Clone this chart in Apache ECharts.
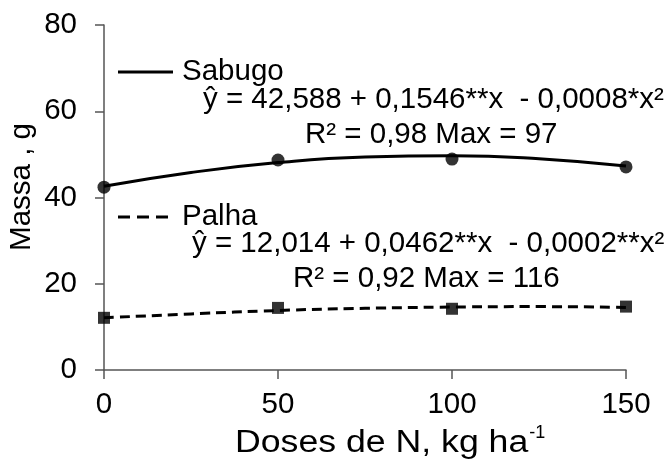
<!DOCTYPE html>
<html><head><meta charset="utf-8">
<script src="https://cdn.jsdelivr.net/npm/echarts@6/dist/echarts.min.js"></script>
<style>html,body{margin:0;padding:0;background:#fff}#c{width:670px;height:461px}</style>
</head><body><div id="c"></div>
<script>
// ---- data ----
const xObs = [0, 50, 100, 150];
const sabugoObs = [42.4, 48.7, 48.9, 47.1];
const palhaObs = [12.1, 14.4, 14.2, 14.7];
const xFit = [0, 25, 50, 75, 100, 125, 150];
const sabugoFit = [42.6, 45.8, 48.1, 49.4, 49.7, 49.0, 47.3];
const palhaFit = [12.1, 13.0, 13.8, 14.3, 14.6, 14.7, 14.5];
const seriesNames = ['Sabugo', 'Palha'];
const sabugoEq = 'ŷ = 42,588 + 0,1546**x  - 0,0008*x²';
const sabugoR2 = 'R² = 0,98 Max = 97';
const palhaEq = 'ŷ = 12,014 + 0,0462**x  - 0,0002**x²';
const palhaR2 = 'R² = 0,92 Max = 116';
const xTitle = 'Doses de N, kg ha';
const xTitleSup = '-1';
const yTitle = 'Massa , g';
const xRange = [0, 150, 50];
const yRange = [0, 80, 20];

// ---- chart ----
const FONT = '"Liberation Sans", Arial, sans-serif';
const FS = 29.5;
const TFS = 31;
const TSX = 1.15;
const axisColor = '#555';
const chart = echarts.init(document.getElementById('c'));

const cv = document.createElement('canvas').getContext('2d');
cv.font = TFS + 'px ' + FONT;
const xTitleW = cv.measureText(xTitle).width * TSX;

function txt(x, y, text, size, align, extra) {
  return Object.assign({
    type: 'text', x: x, y: y, z: 10,
    style: {
      text: text, fontSize: size, fontFamily: FONT, fill: '#000',
      align: align, textAlign: align, verticalAlign: 'middle', textVerticalAlign: 'middle'
    }
  }, extra || {});
}

const option = {
  animation: false,
  backgroundColor: '#fff',
  grid: { left: 104, right: 44, top: 25, bottom: 91 },
  xAxis: {
    type: 'value', min: xRange[0], max: xRange[1], interval: xRange[2],
    axisLine: { lineStyle: { color: axisColor, width: 1.5 } },
    axisTick: { show: true, length: 9, lineStyle: { color: axisColor, width: 1.5 } },
    axisLabel: { fontSize: FS, color: '#000', fontFamily: FONT, margin: 20 },
    splitLine: { show: false }
  },
  yAxis: {
    type: 'value', min: yRange[0], max: yRange[1], interval: yRange[2],
    axisLine: { show: true, lineStyle: { color: axisColor, width: 1.5 } },
    axisTick: { show: true, length: 9, lineStyle: { color: axisColor, width: 1.5 } },
    axisLabel: { fontSize: FS, color: '#000', fontFamily: FONT, margin: 27 },
    splitLine: { show: false }
  },
  series: [
    { name: seriesNames[0] + ' fit', type: 'line', smooth: true, showSymbol: false, z: 2,
      data: xFit.map((x, i) => [x, sabugoFit[i]]),
      lineStyle: { color: '#000', width: 3 } },
    { name: seriesNames[0], type: 'scatter', symbol: 'circle', symbolSize: 13, z: 3,
      data: xObs.map((x, i) => [x, sabugoObs[i]]), itemStyle: { color: '#000' } },
    { name: seriesNames[1] + ' fit', type: 'line', smooth: true, showSymbol: false, z: 2,
      data: xFit.map((x, i) => [x, palhaFit[i]]),
      lineStyle: { color: '#000', width: 3, type: [10, 6] } },
    { name: seriesNames[1], type: 'scatter', symbol: 'rect', symbolSize: 12, z: 3,
      data: xObs.map((x, i) => [x, palhaObs[i]]), itemStyle: { color: '#000' } }
  ],
  graphic: [
    { type: 'line', shape: { x1: 118, y1: 72, x2: 173, y2: 72 }, style: { stroke: '#000', lineWidth: 3 } },
    txt(182, 72, seriesNames[0], FS, 'left'),
    txt(203, 100, sabugoEq, FS, 'left'),
    txt(305, 135, sabugoR2, FS, 'left'),
    { type: 'line', shape: { x1: 118, y1: 217, x2: 173, y2: 217 }, style: { stroke: '#000', lineWidth: 3, lineDash: [12, 7] } },
    txt(182, 217, seriesNames[1], FS, 'left'),
    txt(192, 244, palhaEq, FS, 'left'),
    txt(293, 279, palhaR2, FS, 'left'),
    txt(235, 443, xTitle, TFS, 'left', { scaleX: TSX }),
    txt(235 + xTitleW + 1, 433, xTitleSup, 18, 'left'),
    txt(22, 187, yTitle, FS, 'center', { rotation: Math.PI / 2 })
  ]
};
chart.setOption(option);
</script>
</body></html>
